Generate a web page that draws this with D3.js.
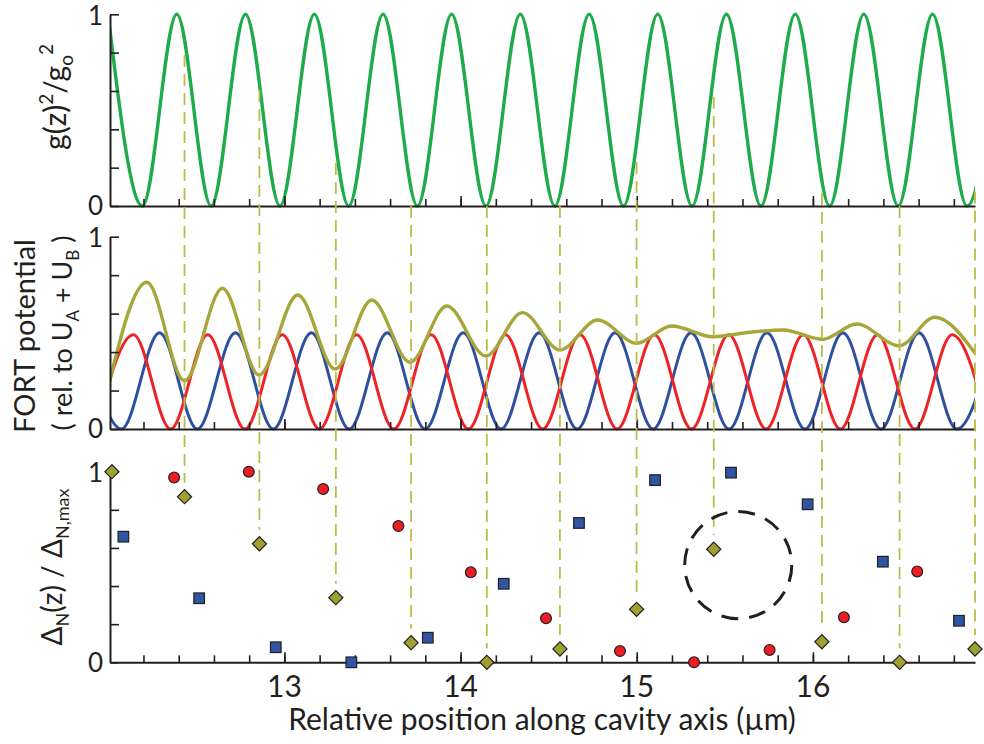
<!DOCTYPE html>
<html><head><meta charset="utf-8">
<script src="https://cdn.jsdelivr.net/npm/d3@7"></script>
<style>
body{margin:0;background:#fff}
svg{display:block}
text{font-family:Lato,"Open Sans",sans-serif;fill:#231f20}
</style>
</head><body>
<svg id="chart" width="984" height="744"></svg>
<script>
// ---------------- data ----------------
// top panel: g(z)^2/g0^2 extrema (µm, value)
const gzX = [11.999,12.194,12.389,12.584,12.779,12.975,13.170,13.365,13.560,13.755,13.949,14.144,14.339,14.535,14.730,14.925,15.119,15.314,15.509,15.705,15.900,16.095,16.289,16.484,16.679,16.874,17.069];
const gzY = [1,0,1,0,1,0,1,0,1,0,1,0,1,0,1,0,1,0,1,0,1,0,1,0,1,0,1];
// middle panel: FORT potentials (extrema)
const redX = [11.932,12.143,12.354,12.565,12.776,12.988,13.199,13.410,13.621,13.833,14.044,14.255,14.466,14.678,14.889,15.100,15.311,15.522,15.734,15.945,16.156,16.367,16.579,16.790,17.001];
const redY = [0,0.49,0,0.49,0,0.49,0,0.49,0,0.49,0,0.49,0,0.49,0,0.49,0,0.49,0,0.49,0,0.49,0,0.49,0];
const blueX = [11.860,12.075,12.291,12.506,12.722,12.937,13.153,13.368,13.584,13.799,14.015,14.230,14.446,14.662,14.877,15.093,15.308,15.524,15.739,15.955,16.170,16.386,16.602,16.817,17.033];
const blueY = [0.5,0,0.5,0,0.5,0,0.5,0,0.5,0,0.5,0,0.5,0,0.5,0,0.5,0,0.5,0,0.5,0,0.5,0,0.5];
const sumX = [12.0,12.219,12.433,12.648,12.856,13.076,13.288,13.496,13.713,13.922,14.143,14.351,14.564,14.778,15.000,15.198,15.434,15.643,15.832,16.055,16.248,16.490,16.692,16.92];
const sumY = [0.22,0.763,0.250,0.732,0.281,0.697,0.312,0.671,0.347,0.640,0.380,0.605,0.411,0.567,0.446,0.536,0.480,0.503,0.515,0.466,0.546,0.433,0.581,0.395];
// bottom panel: normalized Δ_N(z)
const diaX = [12.021,12.433,12.858,13.292,13.719,14.149,14.564,14.999,15.437,16.051,16.492,16.92];
const diaY = [1.0,0.869,0.622,0.339,0.103,0.0,0.070,0.278,0.593,0.108,0.0,0.070];
const sqX = [12.086,12.516,12.951,13.380,13.814,14.245,14.672,15.104,15.535,15.970,16.397,16.829];
const sqY = [0.659,0.336,0.079,0.0,0.129,0.412,0.731,0.956,0.995,0.829,0.528,0.218];
const ciX = [12.374,12.798,13.220,13.647,14.058,14.485,14.905,15.325,15.754,16.176,16.592];
const ciY = [0.969,1.0,0.909,0.715,0.472,0.231,0.059,0.0,0.065,0.236,0.477];
// dashed guide lines: start value in top panel for diamonds 1..11
const guideTop = [0.788,0.605,0.224,0,0,0,0.230,0.570,0.068,0,0.075];
// highlighted point (dashed circle): centre (µm, value) and radius in µm
const hlCenter = [15.576, 0.51];
const hlRadius = 0.304;
// ticks
const xMajor = [13,14,15,16];
const xTickLabels = ["13","14","15","16"];
const yTicks = [0,0.2,0.4,0.6,0.8,1];
const yLabelVals = [0,1];
const yTickLabels = ["0","1"];

// ---------------- layout ----------------
const svg = d3.select("#chart");
const INK = "#231f20";
const x = d3.scaleLinear().domain([12.01,16.92]).range([110,975]);
const yTop = d3.scaleLinear().domain([0,1]).range([206,14.3]);
const yMid = d3.scaleLinear().domain([0,1]).range([429,236.7]);
const yBot = d3.scaleLinear().domain([0,1]).range([662.3,471.7]);
const panels = [yTop,yMid,yBot];

svg.append("clipPath").attr("id","clip").append("rect")
  .attr("x",110).attr("y",0).attr("width",865).attr("height",744);

const zip = (xs,ys)=>xs.map((v,i)=>[v,ys[i]]);
const lineFor = y => d3.line().x(d=>x(d[0])).y(d=>y(d[1])).curve(d3.curveMonotoneX);

// curves
const curves = svg.append("g").attr("clip-path","url(#clip)").attr("fill","none");
curves.append("path").datum(zip(gzX,gzY)).attr("d",lineFor(yTop)).attr("stroke","#1fab4b").attr("stroke-width",3.4);
curves.append("path").datum(zip(blueX,blueY)).attr("d",lineFor(yMid)).attr("stroke","#2f4f9f").attr("stroke-width",3);
curves.append("path").datum(zip(redX,redY)).attr("d",lineFor(yMid)).attr("stroke","#ee2326").attr("stroke-width",3);
curves.append("path").datum(zip(sumX,sumY)).attr("d",lineFor(yMid)).attr("stroke","#a6a63a").attr("stroke-width",3.4);

// axes
panels.forEach(y=>{
  const gl = svg.append("g").attr("transform","translate(110,0)")
    .call(d3.axisLeft(y).tickValues(yTicks).tickSizeInner(-9).tickSizeOuter(0).tickFormat(""));
  const gm = svg.append("g").attr("transform",`translate(0,${y(0)})`)
    .call(d3.axisBottom(x).tickValues(x.ticks(25)).tickSizeInner(-7).tickSizeOuter(0).tickFormat(""));
  const gM = svg.append("g").attr("transform",`translate(0,${y(0)})`)
    .call(d3.axisBottom(x).tickValues(xMajor).tickSizeInner(-10).tickSizeOuter(0).tickFormat(""));
  gM.select(".domain").remove();
  [gl,gm,gM].forEach(g=>{
    g.selectAll(".domain").attr("stroke",INK).attr("stroke-width",2);
    g.selectAll(".tick line").attr("stroke",INK).attr("stroke-width",1.6);
  });
  yLabelVals.forEach((v,i)=>{
    svg.append("text").attr("x",103).attr("y",y(v)).attr("dy",v===1?"0.40em":"0.36em")
      .attr("text-anchor","end").attr("font-size",26).text(yTickLabels[i]);
  });
});

// x tick labels & title
xMajor.forEach((v,i)=>{
  svg.append("text").attr("x",x(v)).attr("y",697).attr("text-anchor","middle")
    .attr("font-size",30).text(xTickLabels[i]);
});
svg.append("text").attr("x",542).attr("y",730).attr("text-anchor","middle")
  .attr("font-size",30).text("Relative position along cavity axis (\u00b5m)");

// y titles
function rich(tx,ty,size,parts){
  const t = svg.append("text").attr("transform",`translate(${tx},${ty}) rotate(-90)`)
    .attr("text-anchor","middle").attr("font-size",size);
  let cur = 0;
  parts.forEach(p=>{
    const off = p.off||0;
    const s = t.append("tspan").text(p.t).attr("dy",off-cur);
    if(p.fs) s.attr("font-size",p.fs);
    cur = off;
  });
  if(cur!==0) t.append("tspan").attr("dy",-cur).text("");
}
rich(66,97,30,[{t:"g(z)"},{t:"2",off:-13,fs:19},{t:"/g"},{t:"o",off:7,fs:19},{t:"2",off:-13,fs:19}]);
rich(35,336,29,[{t:"FORT potential"}]);
rich(72,333,27,[{t:"( rel. to U"},{t:"A",off:7,fs:17},{t:" + U"},{t:"B",off:7,fs:17},{t:" )"}]);
rich(62,567,28,[{t:"\u0394"},{t:"N",off:7,fs:18},{t:"(z) / \u0394"},{t:"N,max",off:7,fs:18}]);

// dashed guide lines
svg.append("g").selectAll("line").data(guideTop).join("line")
  .attr("x1",(d,i)=>x(diaX[i+1])).attr("x2",(d,i)=>x(diaX[i+1]))
  .attr("y1",d=>yTop(d)).attr("y2",(d,i)=>yBot(diaY[i+1])-14)
  .attr("stroke","#bcbc48").attr("stroke-width",1.8).attr("stroke-dasharray","12,7");

// dashed highlight circle
svg.append("circle").attr("cx",x(hlCenter[0])).attr("cy",yBot(hlCenter[1]))
  .attr("r",x(hlCenter[0]+hlRadius)-x(hlCenter[0]))
  .attr("fill","none").attr("stroke",INK).attr("stroke-width",3).attr("stroke-dasharray","17,11");

// markers
const mk = svg.append("g").attr("stroke",INK).attr("stroke-width",1.2);
mk.selectAll("rect.sq").data(zip(sqX,sqY)).join("rect").attr("class","sq")
  .attr("x",d=>x(d[0])-5.3).attr("y",d=>yBot(d[1])-5.3).attr("width",10.6).attr("height",10.6)
  .attr("fill","#2f55a4");
mk.selectAll("circle.ci").data(zip(ciX,ciY)).join("circle").attr("class","ci")
  .attr("cx",d=>x(d[0])).attr("cy",d=>yBot(d[1])).attr("r",5.4).attr("fill","#ee1c25");
mk.selectAll("path.di").data(zip(diaX,diaY)).join("path").attr("class","di")
  .attr("d",d3.symbol(d3.symbolSquare,100)())
  .attr("transform",d=>`translate(${x(d[0])},${yBot(d[1])}) rotate(45)`)
  .attr("fill","#a09f32");
</script>
</body></html>
